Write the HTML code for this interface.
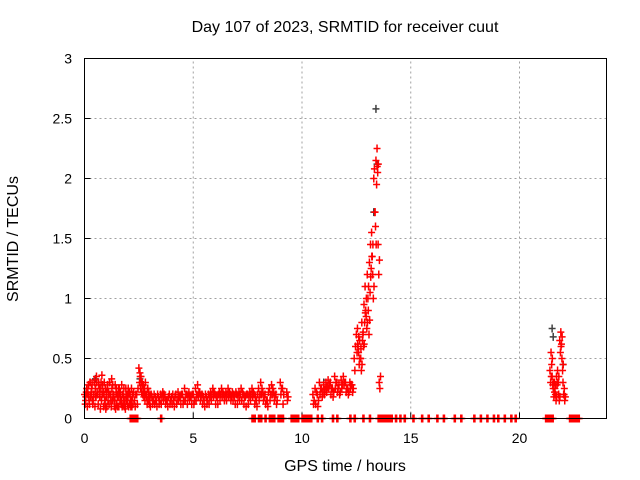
<!DOCTYPE html>
<html><head><meta charset="utf-8"><style>
html,body{margin:0;padding:0;background:#fff;}
svg{display:block;font-family:"Liberation Sans",sans-serif;}
</style></head><body>
<svg id="chart" width="640" height="480" viewBox="0 0 640 480">
<text x="345" y="32" font-size="16" text-anchor="middle">Day 107 of 2023, SRMTID for receiver cuut</text>
<text x="345" y="471" font-size="16" text-anchor="middle">GPS time / hours</text>
<text x="18" y="239" font-size="16" text-anchor="middle" transform="rotate(-90 18 239)">SRMTID / TECUs</text>
<g id="grid"></g><g id="ticks"></g><g id="marks"></g>
<rect x="84.5" y="58.5" width="522" height="360" fill="none" stroke="#000"/>
</svg>
<script>
const xTicks=[0,5,10,15,20];
const yTicks=[0,0.5,1,1.5,2,2.5,3];
const yTickLabels=["0","0.5","1","1.5","2","2.5","3"];
const redT=[0,0.05,0.1,0.15,0.2,0.25,0.3,0.35,0.4,0.45,0.5,0.55,0.6,0.65,0.7,0.75,0.8,0.85,0.9,0.95,1.0,1.05,1.1,1.15,1.2,1.25,1.3,1.35,1.4,1.45,1.5,1.55,1.6,1.65,1.7,1.75,1.8,1.85,1.9,1.95,2.0,2.05,2.1,2.15,2.2,2.3,2.4,2.5,2.55,2.6,2.65,2.7,2.75,2.8,2.85,2.9,2.95,3.0,3.1,3.2,3.3,3.4,3.5,3.6,3.7,3.8,3.9,4.0,4.1,4.2,4.3,4.4,4.5,4.6,4.7,4.8,4.9,5.0,5.1,5.2,5.3,5.4,5.5,5.6,5.7,5.8,5.9,6.0,6.1,6.2,6.3,6.4,6.5,6.6,6.7,6.8,6.9,7.0,7.1,7.2,7.3,7.4,7.5,7.6,7.7,7.8,7.9,8.0,8.1,8.2,8.3,8.4,8.5,8.6,8.7,8.8,9.0,9.1,9.3,10.5,10.6,10.7,10.8,10.9,11.0,11.1,11.2,11.3,11.4,11.5,11.6,11.7,11.8,11.9,12.0,12.1,12.2,12.3,12.4,12.5,12.55,12.6,12.65,12.7,12.75,12.8,12.85,12.9,12.95,13.0,13.05,13.1,13.15,13.2,13.25,13.3,13.35,13.4,13.45,13.5,13.55,21.4,21.45,21.5,21.55,21.6,21.65,21.7,21.75,21.8,21.85,21.9,21.95,22.0,22.05,22.1];
const redA=[0.2,0.15,0.25,0.22,0.18,0.3,0.2,0.28,0.15,0.32,0.25,0.35,0.2,0.3,0.18,0.25,0.36,0.22,0.2,0.12,0.18,0.25,0.22,0.3,0.2,0.33,0.28,0.18,0.15,0.22,0.2,0.18,0.25,0.22,0.15,0.2,0.18,0.12,0.25,0.2,0.18,0.22,0.2,0.15,0.18,0.15,0.2,0.42,0.38,0.35,0.3,0.28,0.25,0.3,0.2,0.25,0.22,0.15,0.18,0.2,0.15,0.18,0.2,0.22,0.18,0.15,0.2,0.18,0.15,0.2,0.22,0.18,0.2,0.25,0.2,0.22,0.18,0.2,0.25,0.28,0.22,0.2,0.15,0.18,0.2,0.22,0.25,0.2,0.18,0.22,0.25,0.2,0.22,0.25,0.2,0.22,0.18,0.2,0.22,0.25,0.2,0.18,0.2,0.22,0.25,0.2,0.15,0.25,0.3,0.22,0.2,0.15,0.25,0.28,0.22,0.2,0.3,0.25,0.22,0.2,0.25,0.2,0.3,0.25,0.28,0.3,0.32,0.3,0.25,0.35,0.3,0.28,0.32,0.35,0.3,0.25,0.3,0.28,0.5,0.7,0.75,0.55,0.65,0.5,0.8,0.7,0.95,1.1,0.85,1.2,0.9,1.3,1.45,1.55,1.2,2.0,1.72,2.15,2.25,1.45,0.3,0.4,0.55,0.35,0.25,0.3,0.2,0.35,0.4,0.2,0.65,0.72,0.5,0.3,0.2];
const redB=[0.12,0.22,0.1,0.28,0.12,0.18,0.25,0.12,0.2,0.1,0.18,0.22,0.12,0.25,0.08,0.15,0.28,0.1,0.15,0.08,0.1,0.15,0.12,0.2,0.1,0.15,0.2,0.1,0.08,0.12,0.1,0.1,0.15,0.12,0.1,0.12,0.1,0.08,0.15,0.12,0.1,0.12,0.1,0.1,0.12,0.1,0.12,0.3,0.25,0.22,0.2,0.18,0.15,0.2,0.12,0.15,0.12,0.1,0.12,0.12,0.1,0.12,0.12,0.15,0.12,0.1,0.12,0.12,0.1,0.12,0.15,0.12,0.12,0.15,0.12,0.15,0.12,0.12,0.15,0.18,0.15,0.12,0.1,0.12,0.12,0.15,0.18,0.12,0.12,0.15,0.18,0.15,0.15,0.18,0.15,0.15,0.12,0.12,0.15,0.15,0.12,0.1,0.12,0.15,0.18,0.12,0.1,0.15,0.2,0.15,0.12,0.1,0.15,0.2,0.15,0.12,0.2,0.12,0.15,0.12,0.12,0.1,0.2,0.18,0.2,0.22,0.25,0.2,0.18,0.25,0.22,0.2,0.25,0.28,0.22,0.2,0.25,0.22,0.4,0.55,0.6,0.45,0.5,0.4,0.65,0.6,0.8,0.9,0.75,1.0,0.7,1.05,1.25,1.35,1.0,2.08,1.6,1.95,2.05,1.2,0.25,0.3,0.45,0.28,0.18,0.25,0.15,0.28,0.3,0.15,0.55,0.62,0.4,0.2,0.15];
const redC=[0.18,0.25,0.2,0.15,0.3,0.22,0.15,0.2,0.3,0.18,0.3,0.2,0.28,0.18,0.3,0.2,0.22,0.3,0.25,0.22,0.28,0.2,0.3,0.15,0.25,0.2,0.15,0.28,0.25,0.18,0.25,0.22,0.18,0.28,0.2,0.25,0.15,0.2,0.18,0.25,0.22,0.15,0.25,0.2,0.22,0.2,0.25,0.35,0.3,0.28,0.25,0.22,0.2,0.18,0.25,0.2,0.18,0.2,0.15,0.18,0.2,0.15,0.18,0.2,0.15,0.18,0.15,0.2,0.18,0.15,0.18,0.2,0.15,0.2,0.18,0.18,0.2,0.15,0.2,0.22,0.18,0.18,0.2,0.15,0.18,0.2,0.22,0.18,0.2,0.2,0.22,0.18,0.2,0.22,0.18,0.2,0.22,0.18,0.2,0.22,0.18,0.2,0.18,0.2,0.22,0.18,0.2,0.2,0.25,0.18,0.15,0.22,0.2,0.25,0.18,0.15,0.25,0.2,0.18,0.15,0.22,0.15,0.25,0.22,0.24,0.26,0.28,0.25,0.22,0.3,0.25,0.22,0.28,0.3,0.25,0.22,0.28,0.25,0.6,0.62,0.68,0.5,0.58,0.45,0.72,0.62,0.88,1.0,0.8,1.1,0.82,1.18,1.35,1.45,1.1,1.72,1.45,2.1,2.12,1.32,0.35,0.35,0.5,0.3,0.22,0.28,0.18,0.3,0.35,0.18,0.6,0.68,0.45,0.25,0.18];
const zeroT=[2.1,2.2,2.3,2.4,3.5,7.7,7.8,8.0,8.1,8.3,8.5,8.6,8.7,8.9,9.0,9.1,9.5,9.6,9.7,9.8,10.0,10.1,10.2,10.3,10.4,10.7,10.9,11.4,11.6,12.2,12.4,12.8,13.1,13.5,13.6,13.7,13.8,13.9,14.0,14.1,14.3,14.5,14.7,15.1,15.5,15.8,16.2,16.5,17.0,17.3,17.9,18.2,18.5,18.8,19.0,19.3,19.6,19.8,21.2,21.3,21.4,21.5,22.3,22.4,22.5,22.6,22.7];
const blackT=[0.5,2.55,13.4,13.45,13.3,21.5,21.55,22.0,11.0];
const blackV=[0.33,0.33,2.58,2.12,1.72,0.75,0.68,0.45,0.3];
const X0=84.5,X1=606.5,Y0=418.5,Y1=58.5;
const xs=t=>X0+t/24*(X1-X0);
const ys=v=>Y0-v/3*(Y0-Y1);
const NS="http://www.w3.org/2000/svg";
const grid=document.getElementById('grid'),ticks=document.getElementById('ticks'),marks=document.getElementById('marks');
function mk(tag,at,p){const e=document.createElementNS(NS,tag);for(const k in at)e.setAttribute(k,at[k]);p.appendChild(e);return e;}
xTicks.forEach(t=>{const x=xs(t);
 if(t>0){const g=mk('line',{x1:x,x2:x,y1:Y0,y2:Y1,stroke:'#a0a0a0','stroke-dasharray':'2,3'},grid);
 
 }
 const l=mk('line',{x1:x,x2:x,y1:Y0,y2:Y0-6,stroke:'#000'},ticks);
 
 
 const tx=mk('text',{x:x,y:443,'font-size':14,'text-anchor':'middle'},ticks);tx.textContent=t;
 
 });
yTicks.forEach((v,i)=>{const y=ys(v);
 if(v>0&&v<3){const g=mk('line',{x1:X0,x2:X1,y1:y,y2:y,stroke:'#a0a0a0','stroke-dasharray':'2,3'},grid);
 
 }
 const l=mk('line',{x1:X0,x2:X0+6,y1:y,y2:y,stroke:'#000'},ticks);
 
 
 const tx=mk('text',{x:72,y:y+5,'font-size':14,'text-anchor':'end'},ticks);tx.textContent=yTickLabels[i];
 
 });
function plus(t,v,c){const x=xs(t),y=ys(v);
 const p=mk('path',{d:`M${x-3.5} ${y}H${x+3.5}M${x} ${y-4}V${y+4}`,stroke:c,'stroke-width':1.5,fill:'none'},marks);
 
 }
blackT.forEach((t,i)=>plus(t,blackV[i],'#404040'));
redT.forEach((t,i)=>{plus(t,redA[i],'#ff0000');plus(t+0.03,redB[i],'#ff0000');plus(t+0.06,redC[i],'#ff0000');});
zeroT.forEach(t=>{plus(t,0,'#ff0000');plus(t+0.05,0,'#ff0000');});
</script>
</body></html>
